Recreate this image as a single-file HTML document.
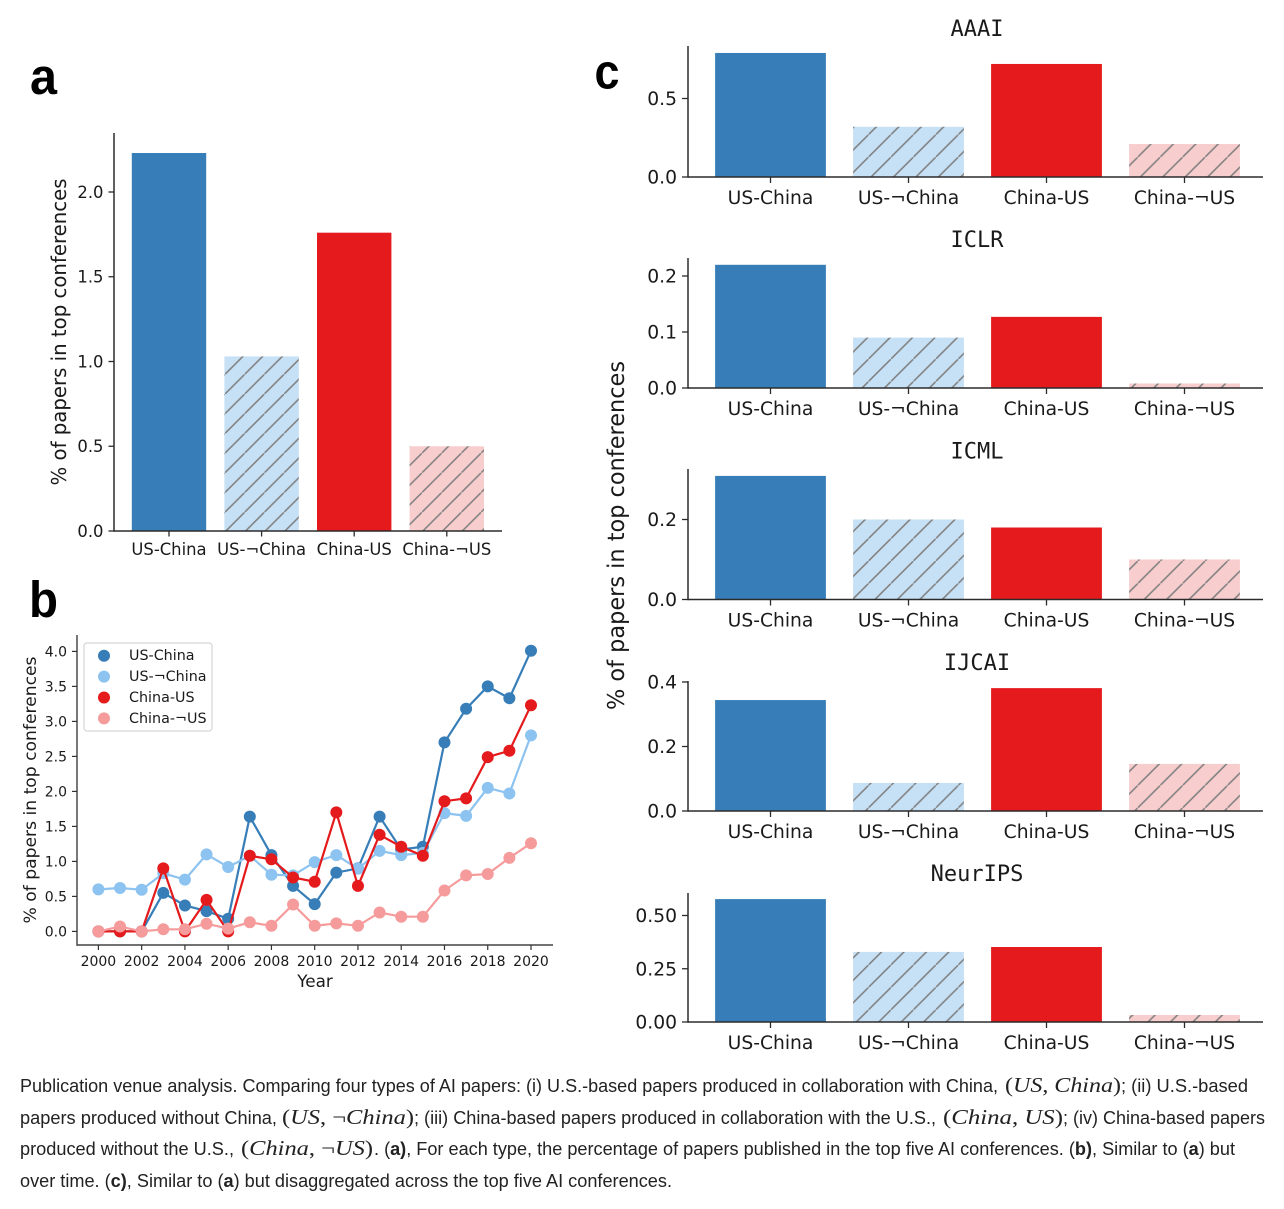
<!DOCTYPE html>
<html lang="en">
<head>
<meta charset="utf-8">
<title>Publication venue analysis</title>
<style>
html,body{margin:0;padding:0;background:#fff;}
#figure{display:block;width:1284px;height:1209px;}
text{fill:#1a1a1a;font-family:"DejaVu Sans",sans-serif;}
.caption{font-family:"Liberation Sans",sans-serif;font-size:18px;fill:#222;}
.math{font-family:"Liberation Serif",serif;font-size:21.5px;fill:#222;}
.letter{font-family:"Liberation Sans",sans-serif;font-weight:700;fill:#000;}
</style>
</head>
<body>
<svg id="figure" xmlns="http://www.w3.org/2000/svg" width="1284" height="1209" viewBox="0 0 1284 1209">
<defs>
<pattern id="hatch-a-blue" patternUnits="userSpaceOnUse" width="19.7" height="19.7" patternTransform="translate(8.3 0)"><rect width="19.7" height="19.7" fill="#c6e0f5"/><path d="M-2 21.7L21.7 -2" stroke="#808080" stroke-width="1.5"/></pattern>
<pattern id="hatch-a-pink" patternUnits="userSpaceOnUse" width="19.7" height="19.7" patternTransform="translate(8.3 0)"><rect width="19.7" height="19.7" fill="#f8cdcd"/><path d="M-2 21.7L21.7 -2" stroke="#808080" stroke-width="1.5"/></pattern>
<pattern id="hatch-c-blue" patternUnits="userSpaceOnUse" width="22.44" height="22.44" patternTransform="translate(15.8 0)"><rect width="22.44" height="22.44" fill="#c6e0f5"/><path d="M-2 24.44L24.44 -2" stroke="#808080" stroke-width="1.5"/></pattern>
<pattern id="hatch-c-pink" patternUnits="userSpaceOnUse" width="22.44" height="22.44" patternTransform="translate(15.8 0)"><rect width="22.44" height="22.44" fill="#f8cdcd"/><path d="M-2 24.44L24.44 -2" stroke="#808080" stroke-width="1.5"/></pattern>
</defs>

<text class="letter" x="30" y="94" font-size="51" textLength="27" lengthAdjust="spacingAndGlyphs">a</text>
<text class="letter" x="29" y="617" font-size="51" textLength="29" lengthAdjust="spacingAndGlyphs">b</text>
<text class="letter" x="594.5" y="88.5" font-size="49" textLength="25" lengthAdjust="spacingAndGlyphs">c</text>

<g id="panel-a"></g>
<g id="panel-b"></g>
<g id="panel-c"></g>

<g>
<text class="caption" x="20" y="1092" textLength="978" lengthAdjust="spacingAndGlyphs">Publication venue analysis. Comparing four types of AI papers: (i) U.S.-based papers produced in collaboration with China,</text>
<text class="math" x="1005" y="1092" textLength="116" lengthAdjust="spacingAndGlyphs">(<tspan font-style="italic">US</tspan>, <tspan font-style="italic">China</tspan>)</text>
<text class="caption" x="1121" y="1092" textLength="127" lengthAdjust="spacingAndGlyphs">; (ii) U.S.-based</text>
<text class="caption" x="20" y="1124" textLength="257" lengthAdjust="spacingAndGlyphs">papers produced without China,</text>
<text class="math" x="282" y="1124" textLength="132" lengthAdjust="spacingAndGlyphs">(<tspan font-style="italic">US</tspan>, ¬<tspan font-style="italic">China</tspan>)</text>
<text class="caption" x="414" y="1124" textLength="522" lengthAdjust="spacingAndGlyphs">; (iii) China-based papers produced in collaboration with the U.S.,</text>
<text class="math" x="943" y="1124" textLength="120" lengthAdjust="spacingAndGlyphs">(<tspan font-style="italic">China</tspan>, <tspan font-style="italic">US</tspan>)</text>
<text class="caption" x="1063" y="1124" textLength="202" lengthAdjust="spacingAndGlyphs">; (iv) China-based papers</text>
<text class="caption" x="20" y="1155" textLength="214" lengthAdjust="spacingAndGlyphs">produced without the U.S.,</text>
<text class="math" x="241" y="1155" textLength="132" lengthAdjust="spacingAndGlyphs">(<tspan font-style="italic">China</tspan>, ¬<tspan font-style="italic">US</tspan>)</text>
<text class="caption" x="374" y="1155" textLength="861" lengthAdjust="spacingAndGlyphs">. (<tspan font-weight="700">a)</tspan>, For each type, the percentage of papers published in the top five AI conferences. (<tspan font-weight="700">b)</tspan>, Similar to (<tspan font-weight="700">a</tspan>) but</text>
<text class="caption" x="20" y="1187" textLength="652" lengthAdjust="spacingAndGlyphs">over time. (<tspan font-weight="700">c)</tspan>, Similar to (<tspan font-weight="700">a</tspan>) but disaggregated across the top five AI conferences.</text>
</g>
</svg>

<script>
// ---- data ----
const categories = ['US-China', 'US-¬China', 'China-US', 'China-¬US'];
const overallValues = [2.23, 1.03, 1.76, 0.50];
const overallTicks = [0, 0.5, 1.0, 1.5, 2.0];
const overallTickLabels = ['0.0', '0.5', '1.0', '1.5', '2.0'];

const years = [2000,2001,2002,2003,2004,2005,2006,2007,2008,2009,2010,2011,2012,2013,2014,2015,2016,2017,2018,2019,2020];
const usChinaSeries = [0,0,0,0.55,0.37,0.29,0.18,1.64,1.09,0.65,0.39,0.84,0.90,1.64,1.17,1.21,2.70,3.18,3.50,3.33,4.01];
const usNotChinaSeries = [0.60,0.62,0.595,0.83,0.74,1.10,0.92,1.08,0.81,0.80,0.99,1.09,0.895,1.15,1.09,1.12,1.69,1.65,2.05,1.97,2.80];
const chinaUsSeries = [0,0,0,0.90,0,0.45,0,1.08,1.03,0.77,0.71,1.70,0.65,1.38,1.21,1.08,1.86,1.90,2.49,2.58,3.23];
const chinaNotUsSeries = [0,0.07,0,0.03,0.03,0.11,0.04,0.13,0.08,0.385,0.08,0.115,0.08,0.27,0.21,0.21,0.585,0.80,0.82,1.05,1.26];
const yearTickValues = [2000,2002,2004,2006,2008,2010,2012,2014,2016,2018,2020];
const trendTicks = [0,0.5,1,1.5,2,2.5,3,3.5,4];
const trendTickLabels = ['0.0','0.5','1.0','1.5','2.0','2.5','3.0','3.5','4.0'];

const venueNames = ['AAAI', 'ICLR', 'ICML', 'IJCAI', 'NeurIPS'];
const aaaiValues = [0.79, 0.32, 0.72, 0.21];
const iclrValues = [0.22, 0.09, 0.127, 0.008];
const icmlValues = [0.309, 0.20, 0.18, 0.10];
const ijcaiValues = [0.344, 0.087, 0.381, 0.146];
const neuripsValues = [0.577, 0.329, 0.352, 0.033];
const aaaiTicks = [0, 0.5];
const iclrTicks = [0, 0.1, 0.2];
const icmlTicks = [0, 0.2];
const ijcaiTicks = [0, 0.2, 0.4];
const neuripsTicks = [0, 0.25, 0.5];
const aaaiTickLabels = ['0.0', '0.5'];
const iclrTickLabels = ['0.0', '0.1', '0.2'];
const icmlTickLabels = ['0.0', '0.2'];
const ijcaiTickLabels = ['0.0', '0.2', '0.4'];
const neuripsTickLabels = ['0.00', '0.25', '0.50'];

// ---- drawing helpers ----
const NS = 'http://www.w3.org/2000/svg';
const SPINE = '#2b2b2b';
function make(tag, parent, attrs) {
  const el = document.createElementNS(NS, tag);
  for (const k in attrs) el.setAttribute(k, attrs[k]);
  parent.appendChild(el);
  return el;
}
function label(parent, x, y, size, anchor, content) {
  const el = make('text', parent, { x: x, y: y, 'font-size': size, 'text-anchor': anchor });
  el.textContent = content;
  return el;
}
const barFills = ['#377eb8', 'url(#hatch-P-blue)', '#e41a1c', 'url(#hatch-P-pink)'];

function drawBarAxes(parent, key, g, values, ticks, tickLabels) {
  const xBand = i => g.firstCenter + i * g.step;
  const yScale = v => g.base - v * g.unit;

  values.forEach((v, i) => {
    const bar = make('rect', parent, {
      x: xBand(i) - g.barWidth / 2, y: yScale(v), width: g.barWidth, height: g.base - yScale(v),
      fill: barFills[i].replace('P', key)
    });
    
    
  });

  const ySpine = make('line', parent, { x1: g.left, x2: g.left, y1: g.top, y2: g.base + 0.75, stroke: SPINE, 'stroke-width': 1.5 });
  
  
  const xSpine = make('line', parent, { x1: g.left, x2: g.right, y1: g.base, y2: g.base, stroke: SPINE, 'stroke-width': 1.5 });
  
  

  ticks.forEach((t, i) => {
    make('line', parent, { x1: g.left - g.tick, x2: g.left, y1: yScale(t), y2: yScale(t), stroke: SPINE, 'stroke-width': 1.3 });
    const yText = label(parent, g.left - g.tick - 5, yScale(t) + g.font * 0.36, g.font, 'end', tickLabels[i]);
    
    
  });
  categories.forEach((c, i) => {
    make('line', parent, { x1: xBand(i), x2: xBand(i), y1: g.base, y2: g.base + g.tick, stroke: SPINE, 'stroke-width': 1.3 });
    const xText = label(parent, xBand(i), g.base + g.labelDrop, g.font, 'middle', c);
    
    
  });
}

// ---- panel a ----
const panelA = document.getElementById('panel-a');
drawBarAxes(panelA, 'a', { left: 114, right: 502, top: 133, base: 531, unit: 169.5, firstCenter: 169, step: 92.6, barWidth: 74.4, tick: 5.5, font: 16.4, labelDrop: 24 }, overallValues, overallTicks, overallTickLabels);
const yTitleA = label(panelA, 0, 0, 20.5, 'middle', '% of papers in top conferences');
yTitleA.setAttribute('transform', 'translate(66 332) rotate(-90)');
yTitleA.setAttribute('textLength', '307');
yTitleA.setAttribute('lengthAdjust', 'spacingAndGlyphs');



// ---- panel b ----
const panelB = document.getElementById('panel-b');
const trendX = yr => 98.4 + (yr - 2000) * 21.63;
const trendY = v => 931.4 - v * 70;
const trendSeries = [
  { name: categories[0], values: usChinaSeries, color: '#377eb8' },
  { name: categories[1], values: usNotChinaSeries, color: '#8dc3f0' },
  { name: categories[2], values: chinaUsSeries, color: '#e41a1c' },
  { name: categories[3], values: chinaNotUsSeries, color: '#f59b9b' }
];
trendSeries.forEach(s => {
  const line = make('polyline', panelB, {
    points: s.values.map((v, i) => trendX(years[i]) + ',' + trendY(v)).join(' '),
    fill: 'none', stroke: s.color, 'stroke-width': 2.2
  });
  
  
  s.values.forEach((v, i) => {
    const dot = make('circle', panelB, { cx: trendX(years[i]), cy: trendY(v), r: 6, fill: s.color });
    
    
  });
});
const bLeft = make('line', panelB, { x1: 77, x2: 77, y1: 635, y2: 945.8, stroke: '#555', 'stroke-width': 1.6 });


const bBottom = make('line', panelB, { x1: 77, x2: 553, y1: 945, y2: 945, stroke: '#444', 'stroke-width': 1.5 });


trendTicks.forEach((t, i) => {
  make('line', panelB, { x1: 72, x2: 77, y1: trendY(t), y2: trendY(t), stroke: '#333', 'stroke-width': 1.2 });
  const el = label(panelB, 67, trendY(t) + 5, 14, 'end', trendTickLabels[i]);
  
  
});
yearTickValues.forEach(yr => {
  make('line', panelB, { x1: trendX(yr), x2: trendX(yr), y1: 945, y2: 950, stroke: '#333', 'stroke-width': 1.2 });
  const el = label(panelB, trendX(yr), 966, 14, 'middle', String(yr));
  
  
});
const yearTitle = label(panelB, 315, 987, 16.8, 'middle', 'Year');


const yTitleB = label(panelB, 0, 0, 17, 'middle', '% of papers in top conferences');
yTitleB.setAttribute('transform', 'translate(36 790) rotate(-90)');
yTitleB.setAttribute('textLength', '267');
yTitleB.setAttribute('lengthAdjust', 'spacingAndGlyphs');



const legendB = make('g', panelB, {});


make('rect', legendB, { x: 84, y: 643, width: 128, height: 88, rx: 3, fill: '#fff', stroke: '#d5d5d5', 'stroke-width': 1.2 });
trendSeries.forEach((s, i) => {
  make('circle', legendB, { cx: 104, cy: 655.7 + i * 20.9, r: 6, fill: s.color });
  const el = label(legendB, 129, 660.2 + i * 20.9, 14.3, 'start', s.name);
  
  
});

// ---- panel c ----
const panelC = document.getElementById('panel-c');
const venueValues = [aaaiValues, iclrValues, icmlValues, ijcaiValues, neuripsValues];
const venueTicks = [aaaiTicks, iclrTicks, icmlTicks, ijcaiTicks, neuripsTicks];
const venueTickLabels = [aaaiTickLabels, iclrTickLabels, icmlTickLabels, ijcaiTickLabels, neuripsTickLabels];
const venueBases = [177, 388, 599.5, 811, 1022];
const venueTops = [46, 258, 469, 681, 893];
const venueUnits = [157, 560, 400, 322.5, 213];
venueNames.forEach((name, n) => {
  const group = make('g', panelC, {});
  
  
  drawBarAxes(group, 'c', { left: 688, right: 1263, top: venueTops[n], base: venueBases[n], unit: venueUnits[n], firstCenter: 770.5, step: 138, barWidth: 110.8, tick: 6, font: 18.7, labelDrop: 27 }, venueValues[n], venueTicks[n], venueTickLabels[n]);
  const title = label(group, 977, venueBases[n] - 141, 22, 'middle', name);
  title.style.fontFamily = '"DejaVu Sans Mono", monospace';
  
  
});
const yTitleC = label(panelC, 0, 0, 23, 'middle', '% of papers in top conferences');
yTitleC.setAttribute('transform', 'translate(624 535.5) rotate(-90)');
yTitleC.setAttribute('textLength', '349');
yTitleC.setAttribute('lengthAdjust', 'spacingAndGlyphs');


</script>
</body>
</html>
